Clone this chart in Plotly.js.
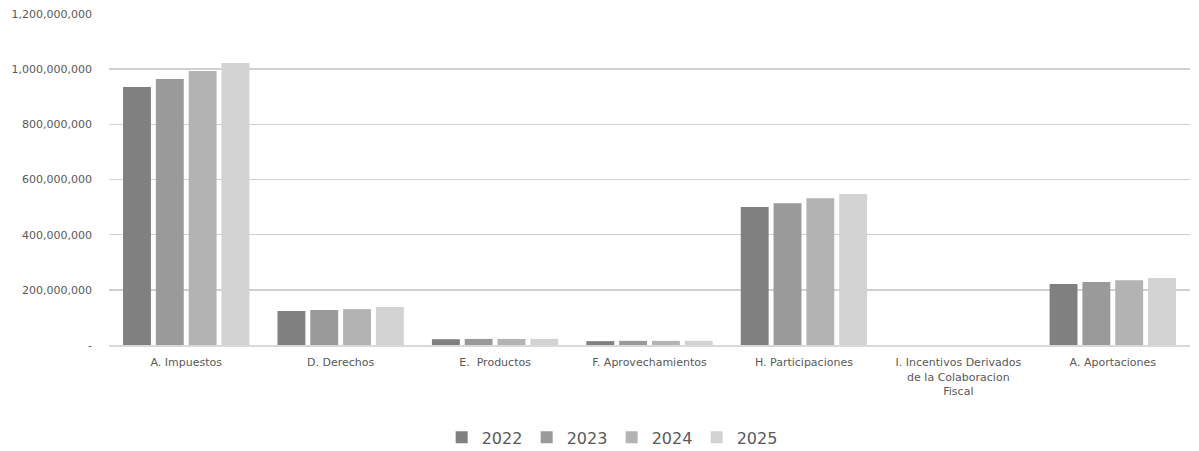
<!DOCTYPE html>
<html><head><meta charset="utf-8">
<script src="https://cdn.plot.ly/plotly-3.0.1.min.js"></script>
<style>html,body{margin:0;padding:0;background:#fff}#c{width:1199px;height:451px}</style>
</head><body><div id="c"></div>
<script>
const categories = ["A. Impuestos","D. Derechos","E.  Productos","F. Aprovechamientos","H. Participaciones","I. Incentivos Derivados<br>de la Colaboracion<br>Fiscal","A. Aportaciones"];
const years = ["2022","2023","2024","2025"];
const v2022 = [935e6,123e6,21e6,14e6,500e6,0,221e6];
const v2023 = [964e6,127e6,22e6,15e6,514e6,0,228e6];
const v2024 = [993e6,130e6,22e6,15e6,532e6,0,235e6];
const v2025 = [1022e6,138e6,22e6,15e6,547e6,0,243e6];
const tickVals = [0,200e6,400e6,600e6,800e6,1000e6,1200e6];
const tickText = ["-","200,000,000","400,000,000","600,000,000","800,000,000","1,000,000,000","1,200,000,000"];
const colors = ["#808080","#9a9a9a","#b3b3b3","#d2d2d2"];
const series = [v2022,v2023,v2024,v2025];
const traces = series.map((s,i)=>({type:"bar",name:years[i],x:categories,y:s,marker:{color:colors[i],line:{width:0}},hoverinfo:"x+y"}));
const layout = {
  width:1199,height:451,
  margin:{l:109,r:9,t:14,b:106},
  paper_bgcolor:"#fff",plot_bgcolor:"#fff",
  font:{family:"DejaVu Sans, Arial, sans-serif",color:"#595959",size:11},
  barmode:"group",bargap:0.15,bargroupgap:0.15,
  showlegend:true,
  legend:{orientation:"h",x:0.465,xanchor:"center",yref:"container",y:0.03,yanchor:"middle",font:{size:16,color:"#595959"},itemwidth:30,entrywidth:40,entrywidthmode:"pixels",tracegroupgap:0,traceorder:"normal"},
  xaxis:{tickfont:{size:11,color:"#595959"},showgrid:false,showline:true,linecolor:"#d9d9d9",linewidth:2,ticks:"",automargin:false,ticklabelstandoff:6},
  yaxis:{range:[0,1.2e9],tickvals:tickVals,ticktext:tickText,showgrid:true,gridcolor:"#d0d0d0",gridwidth:1.5,zeroline:false,showline:false,ticks:"",ticklen:0,tickfont:{size:11,color:"#595959"},automargin:false,ticklabelstandoff:16}
};
Plotly.newPlot("c",traces,layout,{displayModeBar:false,staticPlot:true});
</script></body></html>
